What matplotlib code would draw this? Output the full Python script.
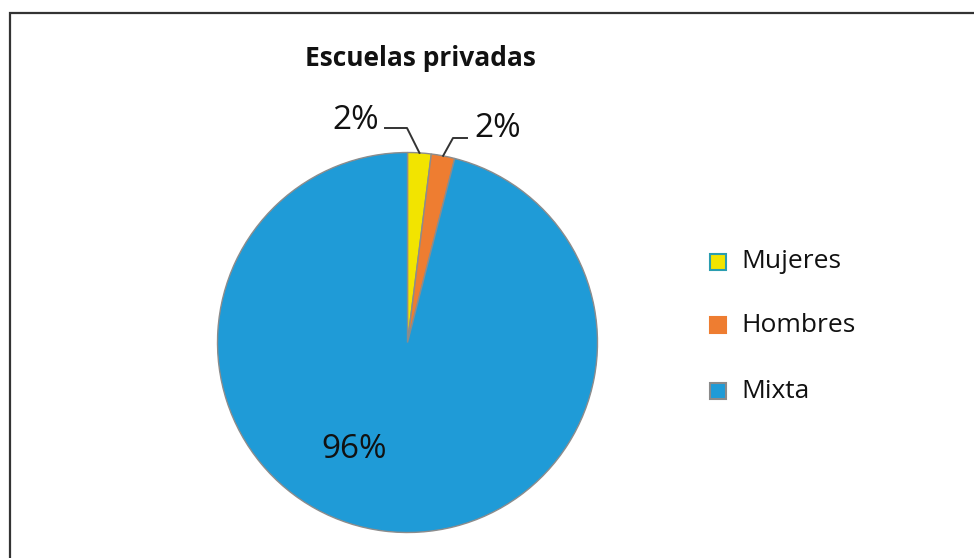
import numpy as np
import matplotlib
matplotlib.use("Agg")
import matplotlib.pyplot as plt
from matplotlib.patches import Rectangle

# data
categorias = ["Mujeres", "Hombres", "Mixta"]
porcentajes = [2, 2, 96]
colores = ["#F2E400", "#EE7D31", "#1F9BD7"]
bordes_leyenda = ["#2A9DB0", "#EE7D31", "#8A8A8A"]
titulo = "Escuelas privadas"

plt.rcParams['font.family'] = ['Open Sans', 'DejaVu Sans']

fig = plt.figure(figsize=(9.74, 5.58), dpi=100)
W, H = 974, 558

# marco
fig.add_artist(Rectangle((9.5 / W, -0.1), 1.2, (H - 13.5) / H + 0.1,
                         transform=fig.transFigure, fill=False,
                         edgecolor="#333333", linewidth=1.6))

# pie: centro (407.5, 342.5) px, radio 190 px
cx, cy, r = 407.5, 342.5, 190
ax = fig.add_axes([(cx - r) / W, (H - cy - r) / H, 2 * r / W, 2 * r / H])
wedges, _ = ax.pie(porcentajes, colors=colores, startangle=90, counterclock=False,
                   radius=1, wedgeprops=dict(edgecolor="#8C8C8C", linewidth=1.0))
ax.set_xlim(-1, 1)
ax.set_ylim(-1, 1)
ax.set_aspect("equal")
ax.axis("off")


def px2data(px, py):
    return (px - cx) / r, (cy - py) / r


# etiquetas con lineas guia
etiq_pos = [(356, 120), (498, 128), (354, 450)]
codo = [(407, 128), (453, 138), None]
inicio = [(385, 128), (467, 138), None]
for w, v, pos, cd, ini in zip(wedges, porcentajes, etiq_pos, codo, inicio):
    tx, ty = px2data(*pos)
    ax.text(tx, ty, f"{v}%", ha="center", va="center", fontsize=24, color="#111111")
    if cd is not None:
        ang = np.deg2rad((w.theta1 + w.theta2) / 2)
        ex, ey = np.cos(ang), np.sin(ang)
        x0, y0 = px2data(*ini)
        x1, y1 = px2data(*cd)
        ax.plot([x0, x1, ex], [y0, y1, ey], color="#333333", lw=1.4, clip_on=False)

# titulo
fig.text(420 / W, 1 - 58 / H, titulo, ha="center", va="center",
         fontsize=19, fontweight="bold", color="#111111")

# leyenda
filas_y = [262, 325, 391]
for cat, col, bd, fy in zip(categorias, colores, bordes_leyenda, filas_y):
    fig.add_artist(Rectangle((710 / W, 1 - (fy + 8) / H), 16 / W, 16 / H,
                             transform=fig.transFigure, facecolor=col,
                             edgecolor=bd, linewidth=1.5))
    fig.text(741 / W, 1 - fy / H, cat, ha="left", va="center",
             fontsize=19, color="#111111")

fig.savefig("out.png", dpi=100, facecolor="white")
